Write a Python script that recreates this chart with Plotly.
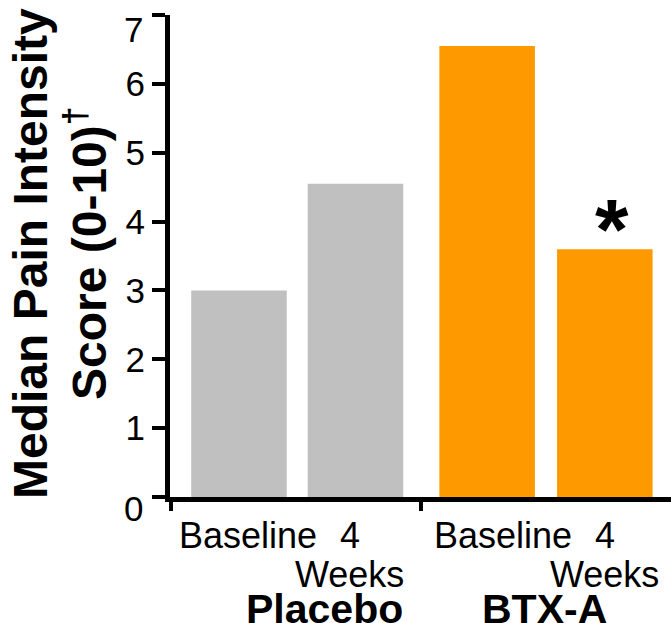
import plotly.graph_objects as go

# ---- data ----
groups = ["Placebo", "BTX-A"]
timepoints = [["Baseline"], ["4", "Weeks"]]
placebo_values = [3.0, 4.55]
btxa_values = [6.55, 3.6]
y_ticks = [0, 1, 2, 3, 4, 5, 6, 7]
y_tick_labels = ["0", "1", "2", "3", "4", "5", "6", "7"]
y_title_lines = ["Median Pain Intensity", "Score (0-10)<sup>†</sup>"]
significance_mark = "*"

# ---- layout constants ----
FONT = "Liberation Sans, Arial, sans-serif"
GREY = "#C0C0C0"
ORANGE = "#FF9900"
positions = [[1.0, 2.0], [3.13, 4.14]]
bar_width = 0.82
x_range = [0.408, 4.708]
group_sep = 2.562

fig = go.Figure()
for g, (vals, col) in enumerate([(placebo_values, GREY), (btxa_values, ORANGE)]):
    fig.add_trace(go.Bar(x=positions[g], y=vals, width=bar_width,
                         marker=dict(color=col, line=dict(width=0)),
                         showlegend=False, hoverinfo="skip"))

ann = []
# time point labels
tp_offsets = [[0.08, -0.05], [0.14, 0.0]]
for g in range(2):
    for i, lines in enumerate(timepoints):
        for k, line in enumerate(lines):
            ann.append(dict(x=positions[g][i] + tp_offsets[g][i], y=0, xref="x", yref="paper",
                            yanchor="top", yshift=-16 - 39 * k, showarrow=False, text=line,
                            font=dict(family=FONT, size=36, color="black")))
# group labels
grp_x = [1.738, 3.618]
for g, name in enumerate(groups):
    ann.append(dict(x=grp_x[g], y=0, xref="x", yref="paper", yanchor="top", yshift=-87,
                    showarrow=False, text="<b>%s</b>" % name,
                    font=dict(family=FONT, size=41, color="black")))
# end tick labels of the y axis (nudged inward as in the reference)
for val, lab, shift in [(y_ticks[0], y_tick_labels[0], -11), (y_ticks[-1], y_tick_labels[-1], -14)]:
    ann.append(dict(x=0, y=val, xref="paper", yref="y", xanchor="right", yanchor="middle",
                    xshift=-25, yshift=shift, showarrow=False, text=lab,
                    font=dict(family=FONT, size=35, color="black")))
# y title
title_x = [30, 86]
title_yc = [254, 254]
for k, line in enumerate(y_title_lines):
    ann.append(dict(x=0, y=1, xref="paper", yref="paper", xanchor="center", yanchor="middle",
                    xshift=title_x[k] - 170, yshift=-(title_yc[k] - 15), textangle=-90,
                    showarrow=False, text="<b>%s</b>" % line,
                    font=dict(family=FONT, size=48, color="black")))
# significance
ann.append(dict(x=positions[1][1] + 0.06, y=btxa_values[1], xref="x", yref="y",
                yanchor="bottom", yshift=-30, showarrow=False, text="<b>%s</b>" % significance_mark,
                font=dict(family=FONT, size=86, color="black")))

inner_labels = [""] + y_tick_labels[1:-1] + [""]

fig.update_layout(
    width=671, height=623,
    margin=dict(l=170, r=0, t=15, b=126),
    paper_bgcolor="white", plot_bgcolor="white",
    annotations=ann,
    xaxis=dict(range=x_range, showgrid=False, zeroline=False, showline=True,
               linecolor="black", linewidth=5, ticks="outside", ticklen=9, tickwidth=4,
               tickcolor="black", tickvals=[x_range[0] + 0.005, group_sep],
               showticklabels=False, fixedrange=True),
    yaxis=dict(range=[0, 7.001], tickvals=y_ticks, ticktext=inner_labels,
               showgrid=False, zeroline=False, showline=True,
               linecolor="black", linewidth=5, ticks="outside", ticklen=13, tickwidth=4,
               tickcolor="black", tickfont=dict(family=FONT, size=35, color="black"),
               ticklabeloverflow="allow", fixedrange=True),
)

fig.write_html("out.html", config={"displayModeBar": False},
               post_script="document.body.style.margin='0';")
